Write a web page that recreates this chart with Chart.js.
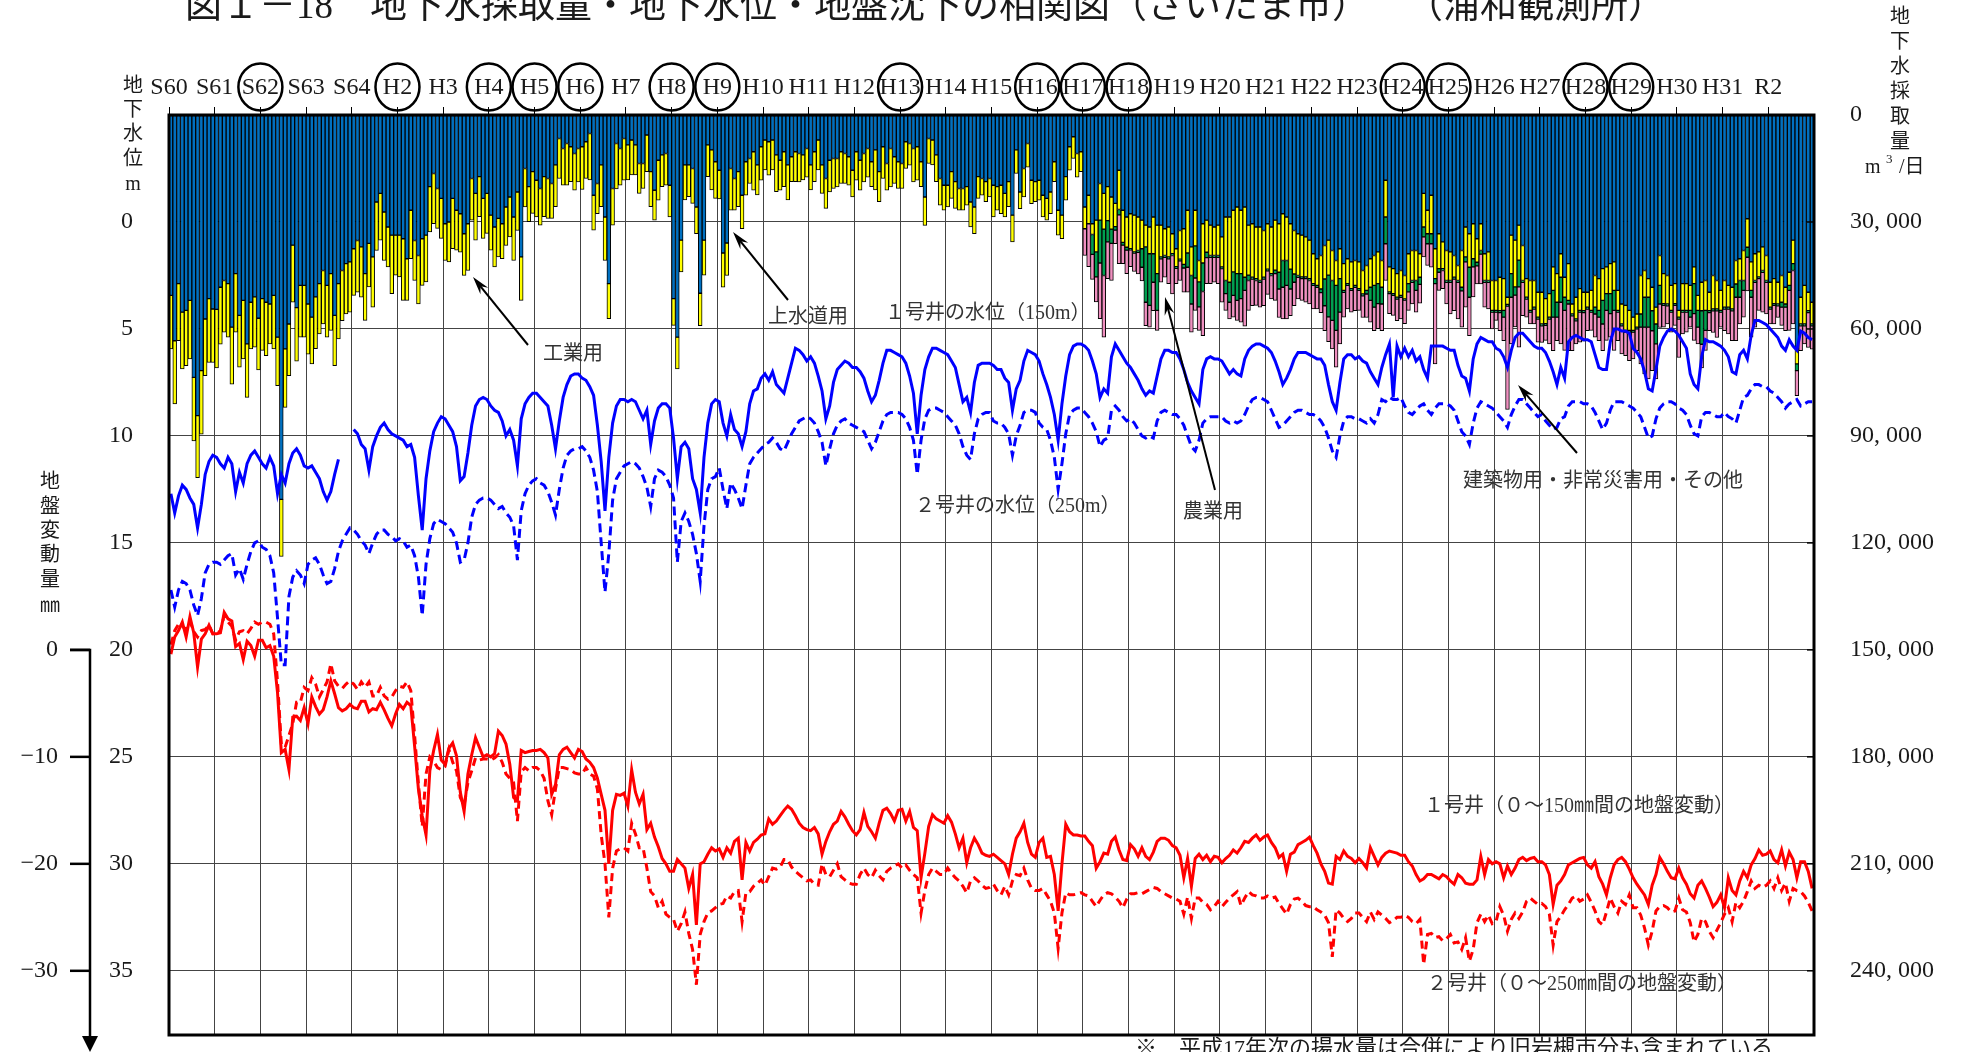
<!DOCTYPE html>
<html lang="ja">
<head>
<meta charset="utf-8">
<title>地下水採取量・地下水位・地盤沈下の相関図（さいたま市）</title>
<script src="https://cdn.jsdelivr.net/npm/chart.js@4.4.1/dist/chart.umd.min.js"></script>
<style>
  html, body { margin: 0; padding: 0; background: #fff; }
  canvas { display: block; }
</style>
</head>
<body>
<canvas id="chart" width="1964" height="1052"></canvas>
<script>
// 年次（上部目盛）と丸囲みの年
const years = ["S60", "S61", "S62", "S63", "S64", "H2", "H3", "H4", "H5", "H6", "H7", "H8",
  "H9", "H10", "H11", "H12", "H13", "H14", "H15", "H16", "H17", "H18", "H19", "H20",
  "H21", "H22", "H23", "H24", "H25", "H26", "H27", "H28", "H29", "H30", "H31", "R2"];
const circled = ["S62", "H2", "H4", "H5", "H6", "H8", "H9", "H13", "H16", "H17", "H18",
  "H24", "H25", "H28", "H29"];
// 目盛
const suiiTicks = [0, 5, 10, 15, 20, 25, 30, 35];
const ryoTicks = [0, 30000, 60000, 90000, 120000, 150000, 180000, 210000, 240000];
const hendoTicks = [0, -10, -20, -30];

// 地下水採取量（千m3/日）月別
const josuido = [
  50.6, 63.3, 47.3, 55.3, 54.8, 52.0, 73.6, 84.3, 71.7, 57.2, 51.5, 54.4,
  54.5, 48.3, 46.4, 47.3, 59.5, 44.5, 56.2, 52.0, 64.2, 52.5, 51.0, 57.0,
  51.5, 52.5, 53.0, 50.6, 62.3, 107.8, 65.6, 58.6, 36.5, 54.0, 47.8, 47.8,
  53.0, 56.7, 51.0, 47.3, 43.6, 47.8, 44.5, 56.2, 47.3, 43.6, 41.7, 41.2,
  37.5, 35.2, 37.0, 44.5, 36.0, 39.8, 24.4, 22.0, 27.2, 31.4, 33.7, 33.7,
  33.7, 34.7, 40.3, 26.7, 35.2, 39.4, 34.7, 33.7, 20.1, 16.4, 20.6, 23.4,
  30.5, 30.0, 23.4, 26.7, 27.7, 33.3, 30.5, 17.8, 22.0, 17.3, 23.4, 22.0,
  28.1, 31.4, 29.0, 30.5, 25.8, 23.0, 28.6, 21.6, 39.8, 15.0, 20.1, 15.9,
  18.3, 20.6, 17.3, 17.8, 19.2, 14.0, 6.6, 9.4, 8.0, 8.9, 10.8, 9.4,
  8.9, 7.5, 5.2, 22.5, 19.2, 14.0, 28.6, 47.3, 20.6, 8.0, 9.4, 6.6,
  8.4, 7.0, 8.4, 13.6, 13.6, 5.6, 15.9, 21.1, 12.7, 11.2, 10.8, 19.7,
  51.5, 62.3, 35.1, 14.0, 14.0, 15.0, 25.8, 50.0, 35.1, 8.4, 9.8, 13.1,
  15.5, 38.7, 35.9, 15.0, 17.8, 15.9, 22.5, 13.1, 12.2, 10.3, 14.0, 8.9,
  7.0, 7.5, 7.0, 11.2, 12.7, 10.3, 14.0, 11.7, 10.3, 10.8, 11.2, 9.4,
  14.0, 10.3, 7.0, 14.0, 17.8, 12.7, 12.2, 12.2, 10.3, 10.8, 11.7, 15.5,
  10.3, 12.7, 10.8, 9.4, 13.1, 9.8, 15.9, 8.9, 13.6, 9.4, 11.7, 13.1,
  13.6, 7.5, 8.0, 9.4, 8.9, 13.1, 23.0, 6.6, 7.0, 11.2, 17.8, 19.7,
  19.7, 15.9, 18.7, 20.6, 20.6, 20.1, 24.4, 25.8, 17.3, 17.8, 18.7, 17.8,
  19.7, 20.1, 19.7, 22.0, 18.7, 28.1, 9.8, 21.6, 15.0, 8.0, 18.3, 18.7,
  18.3, 22.5, 23.4, 21.6, 13.1, 26.7, 28.1, 17.3, 8.9, 6.1, 10.8, 10.3,
  25.8, 22.5, 30.5, 29.5, 19.2, 22.0, 20.1, 23.0, 24.8, 15.5, 26.7, 28.6,
  27.7, 28.1, 28.6, 29.5, 30.9, 31.4, 28.6, 30.9, 30.9, 31.9, 31.4, 33.3,
  37.5, 32.4, 31.9, 26.7, 37.0, 26.7, 40.8, 30.5, 29.5, 30.9, 31.4, 30.9,
  34.2, 28.6, 28.6, 26.7, 25.8, 26.7, 25.8, 30.9, 30.5, 31.4, 31.4, 32.4,
  30.5, 31.4, 29.5, 30.5, 27.7, 28.6, 30.5, 32.4, 33.3, 33.7, 34.2, 35.1,
  38.9, 40.3, 39.4, 36.6, 35.1, 38.0, 40.8, 37.5, 41.7, 40.3, 41.2, 40.8,
  41.2, 43.6, 42.2, 40.3, 39.4, 38.4, 40.8, 18.3, 42.6, 43.1, 44.5, 43.6,
  45.0, 38.9, 38.0, 38.0, 38.9, 22.0, 26.7, 22.5, 37.5, 33.3, 35.6, 38.0,
  38.4, 39.4, 42.2, 38.0, 31.4, 33.3, 30.5, 34.7, 30.5, 38.9, 38.4, 46.4,
  46.4, 45.5, 45.9, 51.1, 33.7, 35.1, 30.9, 36.6, 45.9, 46.4, 46.4, 49.7,
  49.7, 51.5, 50.1, 42.6, 44.5, 38.9, 45.5, 41.7, 53.0, 51.1, 48.7, 49.7,
  49.7, 49.2, 45.0, 45.9, 43.1, 42.6, 41.7, 41.2, 49.2, 53.0, 53.4, 54.8,
  56.7, 55.8, 45.0, 43.6, 45.9, 48.3, 53.9, 39.4, 44.5, 45.0, 47.8, 47.3,
  54.8, 47.3, 47.3, 47.8, 42.6, 50.6, 46.9, 46.4, 49.7, 45.0, 46.4, 49.2,
  46.4, 47.8, 48.3, 40.8, 40.3, 38.0, 29.1, 41.2, 38.9, 38.4, 37.0, 39.4,
  46.9, 45.9, 46.9, 45.0, 48.3, 44.1, 35.1, 65.6, 51.1, 47.8, 49.7, 52.5
];
const kogyo = [
  15.0, 17.7, 16.0, 15.9, 15.5, 16.4, 17.8, 17.4, 17.8, 15.9, 17.9, 15.0,
  16.4, 16.0, 14.5, 15.0, 16.0, 16.4, 14.5, 16.4, 15.0, 13.1, 14.1, 14.5,
  14.5, 15.0, 11.2, 15.0, 13.6, 16.0, 16.4, 14.5, 16.0, 15.0, 14.5, 14.5,
  14.1, 13.1, 14.5, 14.1, 15.0, 14.5, 15.9, 14.1, 15.5, 14.1, 14.1, 14.1,
  13.1, 14.5, 14.1, 13.1, 12.2, 14.1, 13.6, 13.1, 13.6, 11.2, 16.4, 11.2,
  11.7, 17.3, 11.7, 13.6, 11.2, 13.6, 13.1, 13.1, 12.7, 14.1, 11.2, 11.2,
  10.3, 11.2, 14.1, 11.2, 10.8, 11.7, 13.1, 11.7, 13.1, 11.2, 11.2, 11.2,
  9.8, 11.2, 10.8, 9.8, 10.8, 11.2, 12.2, 10.8, 12.2, 10.8, 9.8, 11.7,
  10.3, 10.3, 11.2, 11.2, 9.8, 11.7, 11.2, 10.3, 11.7, 9.8, 10.3, 9.4,
  12.0, 10.3, 13.0, 9.8, 8.5, 11.7, 12.2, 9.8, 10.3, 12.7, 10.3, 11.7,
  9.8, 9.8, 8.4, 8.4, 7.0, 10.3, 9.8, 8.4, 11.2, 8.9, 8.9, 8.9,
  7.5, 8.9, 8.9, 9.8, 8.9, 9.8, 7.5, 9.1, 9.8, 8.9, 11.2, 10.3,
  8.0, 9.6, 9.1, 11.7, 8.9, 9.8, 9.4, 9.4, 7.0, 10.8, 8.4, 9.4,
  8.4, 9.4, 8.4, 10.3, 8.4, 9.8, 9.8, 7.0, 8.4, 8.0, 7.0, 8.0,
  7.0, 8.4, 8.4, 8.0, 8.4, 8.9, 8.4, 8.0, 8.9, 8.4, 8.0, 7.5,
  8.0, 8.4, 8.0, 8.0, 7.0, 11.2, 8.4, 8.9, 7.5, 10.8, 7.5, 7.5,
  7.0, 7.5, 6.1, 9.4, 9.4, 7.0, 8.0, 7.0, 7.0, 7.5, 7.5, 7.0,
  6.1, 7.5, 7.5, 6.1, 6.1, 5.2, 7.0, 7.5, 6.1, 4.7, 5.6, 5.2,
  8.9, 6.6, 8.0, 6.6, 7.0, 7.5, 6.6, 4.7, 8.0, 6.6, 6.6, 5.6,
  5.6, 6.1, 6.1, 6.1, 5.6, 7.0, 6.6, 6.6, 6.6, 6.1, 6.6, 5.6,
  6.1, 8.0, 3.0, 8.9, 10.3, 10.0, 9.5, 9.0, 6.5, 11.0, 9.0, 8.5,
  9.8, 10.3, 9.4, 8.0, 6.1, 7.5, 10.3, 13.6, 8.9, 7.5, 8.4, 5.6,
  5.0, 8.0, 10.0, 12.0, 8.0, 10.0, 6.0, 11.0, 9.0, 8.5, 8.0, 8.5,
  8.4, 17.8, 18.3, 17.3, 18.7, 17.8, 19.7, 14.0, 15.0, 14.5, 15.0, 13.1,
  12.7, 13.1, 14.0, 13.6, 13.1, 12.2, 12.7, 12.2, 11.7, 11.7, 11.2, 10.8,
  8.4, 7.5, 9.4, 9.4, 9.8, 8.4, 7.0, 8.4, 7.5, 7.0, 7.5, 7.0,
  7.5, 6.6, 7.0, 8.0, 8.4, 8.9, 7.5, 10.3, 7.0, 7.0, 6.6, 7.0,
  6.6, 8.4, 8.4, 8.4, 6.6, 9.4, 6.6, 10.8, 8.4, 9.8, 7.5, 8.4,
  8.0, 6.1, 4.2, 10.3, 8.4, 9.4, 9.8, 6.6, 7.5, 7.5, 8.0, 8.4,
  8.4, 9.4, 8.9, 2.0, 10.8, 13.1, 9.8, 9.8, 5.2, 8.4, 7.5, 7.0,
  8.9, 7.0, 6.6, 6.6, 8.0, 6.6, 5.6, 10.3, 2.8, 6.1, 6.1, 5.2,
  4.2, 5.6, 8.9, 8.9, 8.9, 7.5, 8.4, 8.0, 5.6, 5.6, 7.0, 5.6,
  3.7, 3.7, 10.8, 7.5, 5.2, 6.6, 4.7, 8.4, 8.4, 8.0, 7.0, 5.6,
  1.9, 7.5, 7.5, 7.0, 4.7, 4.2, 8.0, 8.4, 5.2, 9.4, 8.0, 5.6,
  7.5, 6.1, 6.1, 6.6, 6.1, 8.4, 8.0, 8.0, 7.5, 7.0, 6.6, 7.0,
  7.0, 7.0, 6.1, 7.5, 4.7, 3.7, 6.6, 4.2, 7.5, 10.8, 5.2, 6.1
];
// 農業用・建築物用ほか（H17年1月から）
const nogyo = [
  null, null, 5.6, 7.0, 12.0, 13.0, 6.0, 4.0, 1.0, 1.5, 0.8, 0.8,
  0.3, 0.3, 0.5, 5.2, 15.5, 14.5, 8.0, 10.3, 0.5, 0.5, 0.5, 0.5,
  0.5, 0.5, 1.0, 4.0, 8.0, 9.0, 7.0, 8.0, 1.5, 0.5, 0.5, 0.5,
  0.5, 3.7, 5.6, 6.6, 7.5, 7.0, 3.7, 1.5, 0.5, 0.5, 0.5, 0.5,
  0.5, 0.5, 1.0, 4.7, 7.5, 7.0, 5.6, 2.3, 0.5, 0.5, 0.5, 0.5,
  0.5, 0.5, 1.0, 7.5, 11.7, 11.2, 12.6, 9.4, 0.5, 0.5, 0.5, 0.5,
  0.5, 0.5, 1.0, 3.7, 6.1, 5.6, 4.7, 7.5, 0.5, 0.5, 0.5, 0.5,
  0.3, 2.3, 0.5, 2.8, 2.0, 2.8, 2.8, 2.8, 1.4, 1.0, 0.5, 0.5,
  0.5, 0.5, 0.5, 1.0, 1.4, 8.4, 2.3, 1.0, 1.0, 0.5, 0.5, 0.5,
  0.5, 0.5, 1.9, 0.5, 6.6, 2.3, 7.5, 0.5, 0.5, 0.5, 0.5, 0.5,
  0.5, 0.5, 0.5, 7.5, 4.2, 7.0, 3.7, 1.0, 0.5, 0.5, 0.5, 0.5,
  0.5, 0.5, 1.9, 1.9, 6.6, 4.7, 5.6, 5.6, 0.5, 0.5, 0.5, 0.5,
  0.5, 0.5, 3.7, 8.4, 8.4, 5.6, 5.6, 5.2, 0.5, 0.5, 0.5, 0.5,
  0.5, 0.5, 0.5, 1.9, 8.4, 4.7, 9.4, 5.6, 0.5, 0.5, 0.5, 0.5,
  0.5, 0.5, 0.5, 3.7, 4.7, 2.8, 2.8, 1.9, 0.5, 0.5, 0.5, 0.5,
  0.5, 0.5, 0.5, 1.4, 0.9, 1.4, 1.9, 1.9, 0.5, 0.5, 0.5, 0.5
];
const sonota = [
  7.5, 12.0, 7.0, 7.0, 15.6, 17.3, 10.3, 10.4, 3.8, 13.7, 5.2, 6.6,
  4.7, 5.2, 6.1, 3.8, 6.6, 6.1, 8.0, 5.6, 6.6, 5.6, 7.0, 10.8,
  4.3, 5.5, 6.8, 7.0, 7.9, 9.1, 6.6, 12.4, 7.3, 7.4, 7.0, 7.4,
  9.4, 4.7, 4.7, 6.1, 5.6, 6.6, 10.0, 8.4, 7.5, 7.0, 7.0, 7.5,
  6.6, 6.6, 7.5, 8.0, 8.9, 9.4, 7.5, 6.6, 6.1, 6.1, 6.6, 6.6,
  6.6, 6.1, 5.6, 7.0, 7.0, 8.0, 10.3, 8.9, 7.0, 6.6, 6.1, 6.6,
  5.6, 6.1, 6.6, 6.1, 6.6, 7.0, 7.5, 10.3, 5.6, 5.6, 6.1, 6.1,
  6.6, 5.2, 6.1, 6.1, 5.3, 5.6, 6.1, 6.6, 22.5, 5.1, 5.1, 6.1,
  8.9, 8.9, 10.3, 10.2, 12.7, 10.8, 8.4, 5.1, 8.4, 7.0, 7.5, 4.7,
  2.3, 5.1, 6.6, 29.0, 13.1, 8.9, 16.9, 9.4, 5.1, 3.3, 4.2, 6.5,
  4.7, 4.2, 7.0, 9.4, 6.6, 11.7, 11.2, 13.1, 9.8, 6.5, 8.4, 8.0,
  6.1, 5.1, 6.5, 6.6, 7.5, 8.4, 6.6, 11.2, 8.0, 7.9, 6.6, 8.0,
  7.5, 6.1, 10.3, 13.1, 14.5, 11.2, 9.8, 6.6, 6.1, 5.1, 5.6, 5.6,
  10.8, 6.1, 5.6, 2.8, 7.5, 4.7, 6.6, 5.6, 5.1, 6.1, 7.5, 4.2,
  6.1, 7.0, 8.4, 12.2, 7.5, 7.5, 9.4, 11.2, 12.6, 8.9, 11.2, 8.9,
  4.2, 5.2, 3.3, 5.1, 6.6, 11.2, 15.0, 7.0, 7.0, 5.1, 9.8, 6.6
];

// 地下水位（m）
const suii1 = [
  12.7, 13.6, 12.8, 12.3, 12.5, 12.9, 13.2, 14.3, 13.2, 11.8, 11.2, 10.9,
  11.0, 11.3, 11.5, 11.0, 11.3, 12.6, 11.7, 12.2, 11.3, 10.9, 10.7, 11.0,
  11.3, 11.5, 11.0, 11.4, 12.7, 11.8, 12.2, 11.3, 10.8, 10.6, 10.9, 11.4,
  11.5, 11.4, 11.7, 12.0, 12.6, 13.0, 12.6, 11.8, 11.1, null, null, null,
  9.7, 9.9, 10.4, 10.6, 11.6, 10.5, 10.0, 9.6, 9.4, 9.7, 9.9, 10.0,
  10.1, 10.2, 10.5, 10.4, 11.0, 12.8, 14.4, 12.0, 10.7, 9.8, 9.4, 9.1,
  9.2, 9.5, 9.8, 10.5, 12.1, 11.9, 10.8, 9.5, 8.6, 8.3, 8.2, 8.3,
  8.6, 8.8, 8.9, 9.3, 10.0, 9.7, 10.2, 11.4, 9.2, 8.5, 8.2, 8.0,
  8.0, 8.2, 8.4, 8.6, 9.5, 10.6, 9.3, 8.2, 7.6, 7.2, 7.1, 7.1,
  7.3, 7.4, 7.7, 8.1, 9.5, 11.2, 13.5, 11.0, 9.4, 8.6, 8.3, 8.3,
  8.4, 8.3, 8.4, 8.8, 9.2, 8.8, 10.4, 9.3, 8.7, 8.5, 8.5, 8.7,
  10.1, 12.0, 10.5, 10.3, 10.6, 12.0, 12.5, 13.6, 11.0, 9.4, 8.5, 8.3,
  8.4, 9.4, 10.0, 9.0, 9.7, 9.9, 10.5, 9.8, 8.5, 7.9, 7.8, 7.3,
  7.1, 7.4, 7.0, 7.6, 7.8, 8.0, 7.3, 6.6, 5.9, 6.0, 6.2, 6.5,
  6.3, 6.6, 7.2, 7.9, 9.2, 8.6, 7.5, 6.9, 6.7, 6.5, 6.6, 6.8,
  6.8, 7.0, 7.3, 7.9, 8.4, 8.1, 7.4, 6.6, 6.0, 6.0, 6.1, 6.2,
  6.3, 6.6, 7.2, 8.0, 9.9, 8.1, 6.9, 6.3, 5.9, 5.9, 6.0, 6.1,
  6.2, 6.5, 6.8, 7.6, 8.4, 8.2, 8.9, 7.5, 6.7, 6.6, 6.6, 6.6,
  6.7, 6.9, 6.9, 7.3, 7.5, 8.8, 7.8, 7.4, 6.5, 6.0, 6.1, 6.2,
  6.5, 7.1, 7.6, 8.2, 9.0, 10.2, 8.5, 7.2, 6.2, 5.8, 5.7, 5.7,
  5.8, 6.0, 6.5, 7.1, 8.2, 7.8, 8.0, 6.3, 5.7, 6.0, 6.3, 6.6,
  6.8, 7.1, 7.4, 7.8, 8.1, 7.9, 8.0, 7.2, 6.4, 6.0, 6.0, 6.1,
  6.1, 6.4, 6.9, 7.5, 7.9, 8.2, 8.5, 6.9, 6.4, 6.3, 6.4, 6.4,
  6.5, 6.8, 7.1, 6.9, 7.1, 7.2, 6.4, 6.0, 5.8, 5.7, 5.7, 5.8,
  5.9, 6.1, 6.5, 7.0, 7.6, 7.3, 6.9, 6.4, 6.1, 6.1, 6.1, 6.2,
  6.3, 6.4, 6.4, 6.7, 7.6, 8.4, 8.8, 7.5, 6.4, 6.2, 6.2, 6.4,
  6.3, 6.5, 6.6, 7.0, 7.3, 7.6, 6.8, 6.2, 5.7, 8.2, 5.8, 6.3,
  5.9, 6.3, 6.0, 6.5, 6.3, 6.9, 7.3, 5.8, 5.8, 5.8, 5.8, 5.9,
  6.0, 6.0, 6.7, 7.2, 7.3, 7.9, 6.4, 5.7, 5.4, 5.5, 5.6, 5.6,
  5.9, 6.0, 6.3, 6.8, 6.0, 5.4, 5.2, 5.2, 5.4, 5.6, 5.8, 5.9,
  5.9, 6.1, 6.5, 7.0, 7.6, 6.8, 7.3, 5.6, 5.4, 5.3, 5.4, 5.5,
  5.5, 5.6, 6.2, 6.8, 6.9, 6.9, 5.6, 5.0, 5.0, 5.1, 5.1, 5.2,
  5.9, 6.1, 6.4, 7.0, 7.8, 7.9, 6.9, 5.8, 5.4, 5.1, 5.0, 5.1,
  5.3, 5.6, 5.9, 7.1, 7.6, 7.8, 6.3, 5.5, 5.6, 5.6, 5.7, 5.8,
  6.0, 6.3, 7.0, 7.1, 6.2, 6.0, 6.4, 5.3, 4.6, 4.6, 4.7, 4.8,
  5.0, 5.2, 5.4, 5.8, 6.0, 5.5, 5.8, 6.0, 5.1, 5.2, 5.4, 5.5
];
const suii2 = [
  17.2, 18.0, 17.2, 16.8, 16.9, 17.2, 17.9, 18.4, 17.6, 16.4, 16.0, 15.9,
  15.9, 16.0, 15.8, 15.6, 15.5, 16.5, 16.2, 16.7, 16.0, 15.4, 15.0, 14.9,
  15.2, 15.3, 15.6, 16.4, 18.5, 20.7, 20.7, 17.5, 16.6, 16.3, 16.5, 16.9,
  16.0, 15.8, 15.7, 16.0, 16.5, 16.9, 16.8, 16.2, 15.4, 14.9, 14.6, 14.3,
  14.4, 14.6, 14.9, 15.1, 15.5, 15.0, 14.6, 14.4, 14.4, 14.6, 14.7, 14.9,
  14.8, 14.9, 15.2, 15.1, 15.6, 16.6, 18.4, 16.0, 14.8, 14.1, 13.9, 14.0,
  14.1, 14.3, 14.5, 15.0, 15.9, 15.8, 15.0, 13.8, 13.2, 13.0, 12.9, 12.9,
  13.0, 13.2, 13.4, 13.3, 13.6, 13.8, 14.2, 15.8, 13.5, 12.7, 12.3, 12.1,
  12.0, 12.2, 12.3, 12.6, 13.1, 13.7, 12.5, 11.5, 10.9, 10.7, 10.6, 10.6,
  10.5, 10.7, 11.0, 11.6, 12.6, 15.0, 17.3, 15.5, 13.0, 12.0, 11.7, 11.4,
  11.3, 11.2, 11.3, 11.5, 11.9, 12.4, 13.3, 12.0, 11.6, 11.7, 11.9, 12.3,
  12.9, 15.9, 14.0, 13.6, 14.0, 14.6, 15.5, 16.8, 14.2, 12.5, 12.0, 11.9,
  11.5, 12.5, 13.4, 12.2, 12.5, 12.9, 13.4, 12.3, 11.3, 11.0, 10.8, 10.6,
  10.4, 10.3, 10.1, 10.3, 10.6, 10.7, 10.3, 9.9, 9.6, 9.3, 9.2, 9.1,
  9.2, 9.4, 9.8, 10.3, 11.4, 10.6, 9.9, 9.5, 9.3, 9.2, 9.4, 9.5,
  9.6, 9.7, 9.8, 10.2, 10.6, 10.3, 9.8, 9.3, 9.0, 8.9, 8.9, 8.9,
  9.0, 9.2, 9.6, 10.2, 11.8, 10.2, 9.2, 8.8, 8.7, 8.7, 8.8, 8.9,
  9.1, 9.3, 9.5, 9.9, 10.5, 10.9, 11.1, 9.9, 9.2, 9.0, 8.9, 8.9,
  9.3, 9.4, 9.4, 9.6, 9.9, 10.9, 10.0, 9.5, 8.9, 8.8, 8.8, 8.9,
  9.4, 9.6, 9.7, 10.2, 11.0, 12.5, 11.3, 9.9, 9.0, 8.8, 8.7, 8.7,
  8.9, 9.1, 9.4, 9.8, 10.5, 10.2, 10.1, 8.8, 8.6, 8.8, 9.1, 9.3,
  9.2, 9.4, 9.7, 10.0, 10.1, 10.0, 10.1, 9.3, 8.9, 8.8, 8.9, 9.0,
  9.0, 9.2, 9.5, 10.0, 10.5, 10.7, 10.2, 9.4, 9.2, 9.1, 9.1, 9.1,
  9.1, 9.3, 9.4, 9.3, 9.4, 9.3, 9.0, 8.6, 8.3, 8.2, 8.2, 8.3,
  8.4, 8.8, 9.2, 9.6, 9.5, 9.3, 9.1, 8.9, 8.8, 8.8, 8.9, 9.0,
  9.0, 9.1, 9.3, 9.6, 10.1, 10.7, 11.0, 10.0, 9.3, 9.1, 9.1, 9.2,
  9.2, 9.3, 9.4, 9.2, 9.4, 9.0, 8.3, 8.4, 8.2, 8.3, 8.3, 8.2,
  8.6, 8.9, 9.0, 8.8, 8.6, 8.5, 8.8, 9.0, 8.7, 8.5, 8.5, 8.5,
  8.6, 8.8, 9.3, 9.8, 10.0, 10.4, 9.4, 8.7, 8.4, 8.5, 8.6, 8.7,
  8.9, 9.1, 9.3, 9.6, 9.0, 8.6, 8.3, 8.3, 8.5, 8.7, 8.9, 9.1,
  9.0, 9.3, 9.5, 9.7, 9.6, 9.2, 9.1, 8.6, 8.4, 8.4, 8.4, 8.5,
  8.5, 8.6, 8.9, 9.3, 9.7, 9.4, 8.8, 8.4, 8.4, 8.4, 8.5, 8.6,
  8.7, 8.9, 9.1, 9.6, 10.1, 10.0, 9.2, 8.7, 8.5, 8.4, 8.4, 8.5,
  8.7, 8.8, 9.0, 9.5, 9.9, 10.0, 9.1, 8.9, 8.9, 9.0, 9.1, 9.1,
  8.9, 9.1, 9.2, 9.4, 8.8, 8.2, 8.1, 7.8, 7.6, 7.6, 7.7, 7.7,
  7.9, 8.0, 8.2, 8.4, 8.7, 8.5, 8.4, 8.3, 8.6, 8.5, 8.4, 8.4
];

// 地盤変動量（mm）
const hendo1 = [
  -0.4, 1.2, 1.8, 2.6, 1.2, 3.1, 1.6, -1.6, 1.0, 1.5, 2.3, 1.5,
  1.5, 1.6, 3.5, 2.9, 2.7, 0.3, 0.6, -0.9, 0.8, 0.4, -0.6, 0.9,
  0.9, 0.2, 0.4, -0.6, -4.0, -9.6, -9.3, -11.2, -6.3, -6.2, -6.6, -5.4,
  -6.9, -4.4, -5.3, -6.0, -5.6, -4.4, -2.9, -4.1, -5.4, -5.7, -5.5, -5.1,
  -5.4, -5.5, -4.8, -4.8, -5.8, -5.5, -5.6, -4.9, -5.6, -6.4, -7.1, -6.0,
  -5.1, -5.5, -4.9, -5.2, -9.0, -13.0, -15.5, -17.3, -11.3, -9.4, -7.9, -10.3,
  -10.7, -9.2, -8.7, -9.9, -13.3, -15.1, -11.6, -9.8, -8.2, -9.1, -10.0, -9.8,
  -10.0, -9.7, -7.6, -8.0, -8.8, -10.7, -13.8, -14.1, -9.4, -9.6, -9.5, -9.4,
  -9.4, -9.3, -9.6, -10.1, -13.5, -12.6, -9.8, -9.3, -9.1, -9.6, -10.1, -9.3,
  -9.5, -10.2, -10.5, -11.0, -12.0, -13.5, -15.0, -20.0, -15.0, -13.5, -13.6, -13.4,
  -14.6, -11.2, -13.3, -14.4, -13.5, -16.8, -16.2, -17.5, -18.4, -19.5, -20.0, -20.7,
  -20.7, -19.6, -20.0, -20.4, -22.3, -21.0, -25.7, -20.0, -19.8, -19.1, -18.5, -18.8,
  -18.6, -19.4, -18.5, -19.0, -17.9, -17.6, -21.5, -18.0, -18.8, -18.0, -17.7, -17.3,
  -17.2, -15.8, -16.3, -16.0, -15.5, -15.0, -14.6, -14.9, -15.5, -16.2, -16.6, -16.8,
  -16.9, -16.6, -17.2, -19.1, -17.9, -17.0, -16.3, -16.0, -15.1, -15.6, -16.3, -16.9,
  -17.3, -16.8, -15.2, -16.5, -17.0, -17.6, -16.2, -15.0, -14.8, -15.3, -16.0, -15.0,
  -14.9, -16.0, -15.1, -16.6, -16.9, -21.3, -19.0, -16.5, -15.4, -15.8, -16.0, -16.2,
  -15.5, -16.1, -17.2, -18.5, -17.6, -19.9, -18.5, -17.6, -18.2, -19.0, -19.2, -19.3,
  -19.1, -19.4, -19.7, -20.0, -21.0, -19.1, -17.6, -17.0, -16.2, -18.0, -19.1, -19.4,
  -18.0, -17.6, -19.4, -19.3, -21.0, -24.4, -20.0, -16.3, -17.0, -17.3, -17.3, -17.4,
  -17.4, -17.9, -18.3, -20.4, -19.8, -19.0, -19.1, -17.9, -17.5, -18.7, -19.6, -19.7,
  -18.2, -18.6, -19.3, -18.5, -19.3, -19.6, -18.9, -17.9, -17.6, -17.6, -17.8, -18.3,
  -18.5, -19.2, -21.3, -19.5, -22.1, -19.5, -19.1, -19.6, -19.2, -19.8, -19.3, -19.4,
  -19.9, -19.5, -19.2, -18.7, -19.0, -18.5, -17.9, -18.0, -17.6, -17.3, -17.8, -17.5,
  -17.3, -18.0, -18.5, -19.4, -19.1, -20.7, -19.1, -18.9, -18.2, -18.0, -17.8, -17.5,
  -18.3, -19.0, -20.0, -20.7, -21.8, -21.9, -19.3, -19.6, -18.8, -19.3, -19.5, -19.9,
  -19.5, -19.9, -20.4, -18.5, -19.3, -20.1, -19.4, -19.0, -18.8, -18.9, -19.0, -19.2,
  -19.2, -19.8, -20.2, -21.0, -21.6, -21.4, -21.0, -21.0, -21.2, -21.4, -21.0, -21.2,
  -21.6, -21.9, -21.0, -21.3, -21.8, -21.9, -21.9, -21.5, -19.3, -21.0, -19.6, -20.0,
  -19.8, -20.0, -21.3, -20.2, -21.0, -20.4, -19.6, -19.4, -19.7, -19.5, -19.4, -19.8,
  -19.8, -20.1, -21.0, -23.8, -22.0, -21.6, -21.0, -20.1, -19.9, -19.7, -19.5, -19.4,
  -20.1, -20.4, -19.8, -21.2, -21.9, -22.9, -21.3, -20.1, -19.6, -19.4, -19.8, -20.5,
  -21.3, -21.9, -22.4, -22.9, -23.8, -22.0, -21.0, -19.4, -20.0, -20.7, -21.3, -21.4,
  -20.4, -21.3, -21.9, -22.8, -23.2, -22.0, -21.6, -22.3, -23.1, -24.0, -23.6, -22.9,
  -24.1, -21.3, -22.5, -22.9, -21.6, -20.7, -21.3, -20.1, -19.5, -18.7, -19.2, -19.1,
  -18.8, -19.6, -19.9, -18.7, -20.2, -18.9, -19.6, -21.3, -19.8, -19.8, -20.7, -22.3
];
const hendo2 = [
  0.5, 1.8, 2.4, 2.2, 1.9, 2.7, 1.7, 1.2, 1.8, 1.9, 2.3, 1.5,
  1.5, 1.8, 3.2, 2.6, 2.2, 0.9, 1.7, 1.8, 1.5, 2.0, 2.6, 2.4,
  2.6, 2.6, 2.4, 1.5, -3.0, -8.8, -9.1, -8.0, -6.9, -4.9, -4.9, -3.5,
  -3.8, -2.6, -3.2, -4.4, -3.7, -3.0, -1.3, -2.9, -3.4, -3.6, -3.2, -2.9,
  -3.2, -3.7, -3.0, -3.5, -3.0, -4.3, -4.3, -3.5, -4.3, -4.6, -4.4, -3.8,
  -3.4, -3.5, -3.0, -3.8, -8.0, -12.5, -16.5, -11.6, -10.0, -10.4, -11.0, -11.2,
  -10.9, -9.3, -10.5, -11.3, -13.8, -14.5, -12.4, -11.3, -10.1, -10.3, -10.2, -10.2,
  -10.3, -10.1, -9.8, -10.5, -11.6, -12.0, -12.4, -16.0, -11.4, -11.0, -11.3, -11.0,
  -11.0, -11.3, -12.0, -14.1, -15.4, -13.0, -11.0, -11.0, -11.1, -11.2, -11.5, -11.6,
  -11.6, -11.0, -11.6, -11.8, -13.0, -17.3, -20.0, -25.0, -20.4, -18.8, -18.6, -18.5,
  -18.8, -16.2, -17.2, -18.5, -18.5, -20.4, -22.6, -23.0, -24.1, -23.5, -24.7, -25.0,
  -25.2, -26.3, -25.6, -24.5, -26.5, -28.0, -31.3, -26.6, -25.4, -24.6, -24.4, -24.1,
  -23.8, -23.7, -23.0, -23.2, -22.6, -22.5, -25.4, -22.7, -22.6, -22.1, -21.8, -21.5,
  -22.0, -21.2, -20.4, -20.5, -20.3, -19.6, -19.6, -20.3, -20.7, -21.0, -21.3, -21.6,
  -21.5, -21.9, -22.0, -20.0, -21.0, -21.2, -20.6, -20.0, -21.2, -21.5, -21.8, -21.9,
  -21.9, -21.0, -20.4, -21.0, -21.3, -20.6, -21.1, -21.5, -20.7, -20.4, -20.2, -20.0,
  -20.4, -20.1, -20.6, -21.0, -21.3, -24.6, -22.5, -21.0, -20.4, -20.7, -21.0, -21.0,
  -20.4, -20.9, -21.3, -21.6, -22.1, -22.7, -21.6, -21.3, -21.6, -22.0, -22.3, -22.2,
  -21.9, -22.5, -22.9, -22.1, -22.9, -21.6, -21.0, -21.1, -20.4, -21.5, -22.3, -22.5,
  -22.5, -22.3, -22.9, -23.5, -24.6, -27.9, -24.6, -22.7, -22.9, -22.9, -22.8, -22.7,
  -22.9, -23.0, -23.5, -24.0, -23.4, -22.9, -22.7, -22.8, -23.1, -23.5, -24.1, -23.3,
  -22.8, -22.8, -22.7, -22.8, -22.6, -22.4, -22.2, -22.3, -22.6, -22.8, -23.0, -23.2,
  -23.3, -23.5, -24.7, -23.1, -25.1, -23.2, -23.2, -23.6, -23.8, -24.3, -24.0, -23.5,
  -24.0, -23.6, -23.2, -22.9, -22.6, -23.9, -23.2, -22.6, -22.9, -23.0, -23.2, -23.2,
  -23.0, -23.2, -23.1, -23.7, -24.2, -24.7, -23.8, -23.3, -23.2, -23.5, -23.9, -24.0,
  -24.0, -24.3, -24.5, -24.8, -25.5, -28.7, -24.3, -24.6, -25.1, -25.4, -25.1, -24.6,
  -24.6, -25.0, -25.4, -24.5, -25.2, -24.5, -24.8, -25.1, -25.5, -25.3, -25.0, -25.0,
  -24.8, -25.0, -25.4, -25.6, -25.2, -29.4, -26.6, -26.5, -26.9, -26.8, -27.2, -27.0,
  -26.6, -27.4, -27.3, -28.0, -26.9, -29.1, -28.0, -25.5, -24.7, -25.4, -24.8, -25.6,
  -25.4, -24.0, -24.8, -26.3, -25.2, -24.6, -25.1, -24.5, -23.5, -23.2, -23.5, -23.8,
  -23.7, -24.0, -24.7, -27.6, -25.4, -24.9, -24.3, -23.8, -23.2, -23.0, -23.5, -23.3,
  -22.9, -23.6, -24.4, -25.4, -25.7, -24.5, -23.2, -24.0, -24.6, -23.5, -23.8, -22.9,
  -24.1, -24.1, -24.8, -26.0, -27.6, -26.3, -24.4, -24.0, -23.9, -24.1, -24.5, -24.4,
  -23.2, -24.3, -24.5, -25.5, -27.3, -26.6, -25.1, -25.4, -26.3, -26.9, -26.2, -25.5,
  -24.7, -24.1, -25.4, -23.6, -24.1, -23.5, -22.6, -21.6, -22.3, -22.0, -22.2, -22.0,
  -21.6, -22.3, -21.3, -22.5, -21.8, -23.5, -22.3, -22.5, -22.6, -23.0, -23.6, -24.4
];

const SERIF = '"Liberation Serif", "Noto Sans CJK JP", serif';
const INK = "#1a1a1a";
const CLEAR = "rgba(0,0,0,0)";

var labels = [];
years.forEach(function (y) {
  for (var m = 1; m <= 12; m++) labels.push(y + "-" + m);
});
var before = new Array(labels.length - nogyo.length).fill(null);
function m3(arr) {
  return arr.map(function (v) { return v === null ? null : v * 1000; });
}
function barSet(label, data, color) {
  return {
    type: "bar", label: label, data: m3(data), yAxisID: "yq", stack: "q",
    backgroundColor: color, borderColor: "#000", borderWidth: 1, borderSkipped: false,
    barPercentage: 1, categoryPercentage: 1, order: 1
  };
}
function lineSet(label, data, axis, color, dash) {
  return {
    type: "line", label: label, data: data, yAxisID: axis, borderColor: color,
    borderWidth: 3, borderDash: dash, pointRadius: 0, fill: false, tension: 0,
    spanGaps: false, order: 0
  };
}
function yearLine(c) { return c.index % 12 === 0 ? "#444" : CLEAR; }
function yearTick(c) { return c.index % 12 === 0 ? "#000" : CLEAR; }
function fixedTicks(list) {
  return function (s) { s.ticks = list.map(function (v) { return { value: v }; }); };
}

function vtext(ctx, chars, x, ys, size) {
  ctx.font = size + "px " + SERIF;
  ctx.textAlign = "center";
  ctx.textBaseline = "middle";
  chars.forEach(function (ch, i) { ctx.fillText(ch, x, ys[i]); });
}
function arrow(ctx, x1, y1, x2, y2) {
  var ang = Math.atan2(y2 - y1, x2 - x1);
  ctx.beginPath();
  ctx.moveTo(x1, y1);
  ctx.lineTo(x2 - 10 * Math.cos(ang), y2 - 10 * Math.sin(ang));
  ctx.lineWidth = 2;
  ctx.stroke();
  ctx.beginPath();
  ctx.moveTo(x2, y2);
  ctx.lineTo(x2 - 18 * Math.cos(ang) + 5 * Math.sin(ang), y2 - 18 * Math.sin(ang) - 5 * Math.cos(ang));
  ctx.lineTo(x2 - 12 * Math.cos(ang), y2 - 12 * Math.sin(ang));
  ctx.lineTo(x2 - 18 * Math.cos(ang) - 5 * Math.sin(ang), y2 - 18 * Math.sin(ang) + 5 * Math.cos(ang));
  ctx.closePath();
  ctx.fill();
}

const decor = {
  id: "decor",
  afterDraw: function (chart) {
    var ctx = chart.ctx, a = chart.chartArea, x = chart.scales.x, ys = chart.scales.ys;
    var yq = chart.scales.yq;
    var half = (a.right - a.left) / labels.length / 2;
    ctx.save();
    ctx.strokeStyle = "#000";
    ctx.fillStyle = INK;

    // 枠と右側の内向き目盛
    ctx.lineWidth = 3;
    ctx.strokeRect(a.left, a.top, a.right - a.left, a.bottom - a.top);
    ctx.lineWidth = 1.5;
    ryoTicks.forEach(function (v) {
      var py = yq.getPixelForValue(v);
      ctx.beginPath();
      ctx.moveTo(a.right - 7, py);
      ctx.lineTo(a.right, py);
      ctx.stroke();
    });

    // 丸囲みの年
    ctx.lineWidth = 2.5;
    years.forEach(function (y, k) {
      if (circled.indexOf(y) < 0) return;
      var cx = x.getPixelForValue(k * 12) - half;
      ctx.beginPath();
      ctx.ellipse(cx, 87, 22, 23.5, 0, 0, Math.PI * 2);
      ctx.stroke();
    });

    // 表題・注記
    ctx.textAlign = "left";
    ctx.textBaseline = "alphabetic";
    ctx.font = "37px " + SERIF;
    ctx.fillText("図１－18　地下水採取量・地下水位・地盤沈下の相関図（さいたま市）　　（浦和観測所）", 185, 18);
    ctx.font = "22px " + SERIF;
    ctx.textBaseline = "top";
    ctx.fillText("※　平成17年次の揚水量は合併により旧岩槻市分も含まれている", 1135, 1038);

    // 軸名
    vtext(ctx, ["地", "下", "水", "位", "m"], 133, [87, 111, 135, 160, 185], 20);
    vtext(ctx, ["地", "下", "水", "採", "取", "量"], 1900, [18, 43, 68, 93, 118, 143], 20);
    vtext(ctx, ["地", "盤", "変", "動", "量", "㎜"], 50, [483, 508, 532, 556, 581, 607], 20);
    ctx.textAlign = "left";
    ctx.font = "20px " + SERIF;
    ctx.fillText("m", 1865, 168);
    ctx.fillText("/日", 1899, 168);
    ctx.font = "13px " + SERIF;
    ctx.fillText("3", 1886, 160);

    // 地盤変動量の軸
    var y0 = ys.getPixelForValue(0);
    ctx.lineWidth = 2.5;
    ctx.beginPath();
    ctx.moveTo(70, y0);
    ctx.lineTo(90, y0);
    ctx.lineTo(90, 1040);
    ctx.stroke();
    ctx.beginPath();
    ctx.moveTo(82, 1036);
    ctx.lineTo(98, 1036);
    ctx.lineTo(90, 1052);
    ctx.closePath();
    ctx.fillStyle = "#000";
    ctx.fill();
    ctx.fillStyle = INK;
    ctx.font = "24px " + SERIF;
    ctx.textAlign = "right";
    ctx.textBaseline = "middle";
    hendoTicks.forEach(function (v) {
      var py = ys.getPixelForValue(v);
      ctx.beginPath();
      ctx.moveTo(70, py);
      ctx.lineTo(90, py);
      ctx.stroke();
      ctx.fillText(v === 0 ? "0" : "−" + Math.abs(v), 58, py);
    });

    // 注釈
    ctx.font = "20px " + SERIF;
    ctx.textAlign = "left";
    ctx.fillStyle = "#333";
    ctx.fillText("工業用", 543, 355);
    ctx.fillText("上水道用", 768, 318);
    ctx.fillText("１号井の水位（150m）", 885, 314);
    ctx.fillText("２号井の水位（250m）", 915, 507);
    ctx.fillText("農業用", 1183, 513);
    ctx.fillText("建築物用・非常災害用・その他", 1463, 482);
    ctx.fillText("１号井（０～150㎜間の地盤変動）", 1424, 807);
    ctx.fillText("２号井（０～250㎜間の地盤変動）", 1427, 985);
    ctx.fillStyle = "#000";
    arrow(ctx, 528, 345, 473, 277);
    arrow(ctx, 788, 300, 733, 232);
    arrow(ctx, 1215, 490, 1165, 297);
    arrow(ctx, 1577, 453, 1518, 385);
    ctx.restore();
  }
};

new Chart(document.getElementById("chart"), {
  type: "bar",
  data: {
    labels: labels,
    datasets: [
      lineSet("１号井の水位（150m）", suii1, "yl", "#0000ff", []),
      lineSet("２号井の水位（250m）", suii2, "yl", "#0000ff", [9, 5]),
      lineSet("１号井（０～150㎜間の地盤変動）", hendo1, "ys", "#ff0000", []),
      lineSet("２号井（０～250㎜間の地盤変動）", hendo2, "ys", "#ff0000", [8, 5]),
      barSet("上水道用", josuido, "#0070c0"),
      barSet("工業用", kogyo, "#ffff00"),
      barSet("農業用", before.concat(nogyo), "#00a050"),
      barSet("建築物用・非常災害用・その他", before.concat(sonota), "#f090c0")
    ]
  },
  options: {
    responsive: false,
    devicePixelRatio: 1,
    animation: false,
    layout: { padding: { left: 0, right: 0, top: 0, bottom: 17 } },
    plugins: { legend: { display: false }, tooltip: { enabled: false } },
    scales: {
      x: {
        type: "category",
        position: "top",
        offset: true,
        grid: { offset: true, color: yearLine, tickColor: yearTick, tickLength: 8, lineWidth: 1 },
        border: { display: false },
        ticks: {
          autoSkip: false, maxRotation: 0, minRotation: 0, labelOffset: -1.9, padding: 5,
          color: INK, font: { family: SERIF, size: 24 },
          callback: function (v, i) { return i % 12 === 0 ? years[i / 12] : ""; }
        },
        afterFit: function (s) { s.height = 115; }
      },
      yl: {
        position: "left",
        reverse: true,
        min: -5,
        max: 38,
        afterBuildTicks: fixedTicks(suiiTicks),
        grid: { color: "#444", lineWidth: 1, drawTicks: true, tickLength: 36, tickColor: CLEAR },
        border: { display: false },
        ticks: {
          autoSkip: false, padding: 0, color: INK, font: { family: SERIF, size: 24 },
          callback: function (v) { return String(v); }
        },
        afterFit: function (s) { s.width = 169; }
      },
      yq: {
        position: "right",
        reverse: true,
        min: 0,
        max: 258000,
        afterBuildTicks: fixedTicks(ryoTicks),
        grid: { drawOnChartArea: false, color: CLEAR, drawTicks: true, tickLength: 36, tickColor: CLEAR },
        border: { display: false },
        ticks: {
          autoSkip: false, padding: 0, color: INK, font: { family: SERIF, size: 24 },
          callback: function (v) { return v === 0 ? "0" : (v / 1000) + ", 000"; }
        },
        afterFit: function (s) { s.width = 150; }
      },
      ys: { display: false, min: -36, max: 50 }
    }
  },
  plugins: [decor]
});
</script>
</body>
</html>
